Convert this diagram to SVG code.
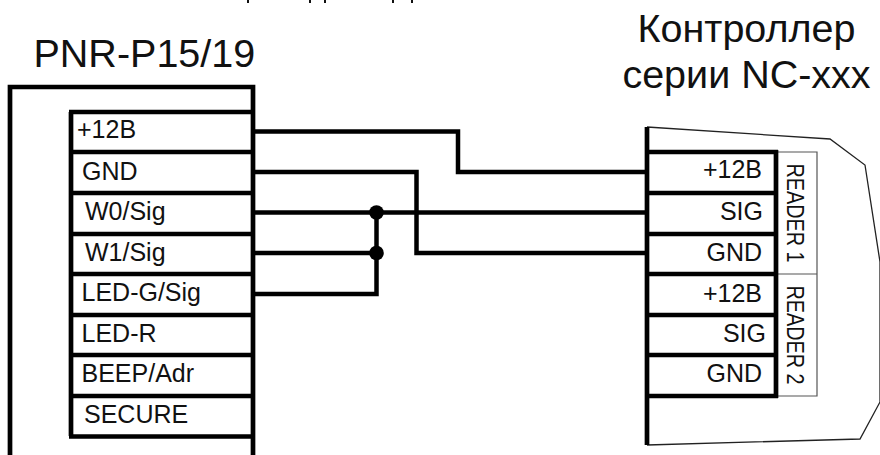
<svg xmlns="http://www.w3.org/2000/svg" width="880" height="455" viewBox="0 0 880 455">
<style>
text{font-family:"Liberation Sans",Arial,sans-serif;fill:#111}
.title{font-size:39.500px}
.pin{font-size:25px}
.end{text-anchor:end}
.side{font-size:23px;text-anchor:middle}
.b{fill:none;stroke:#000;stroke-width:4.700}
.w{fill:none;stroke:#000;stroke-width:4.500}
.t{fill:none;stroke:#555;stroke-width:1.200}
</style>
<rect width="880" height="455" fill="#fff"/>
<path d="M248 0V3M310 0V3M325 0V3M393 0V3M412 0V3" stroke="#111" stroke-width="2" fill="none"/>
<g id="pnr">
<text class="title" x="33.500" y="67">PNR-P15/19</text>
<path class="b" d="M10 455V87H253V455"/>
<path class="b" d="M71 436V112M69 112H253M71 152H253M71 193H253M71 234H253M71 274H253M71 315H253M71 355H253M71 396H253M69 436.500H253"/>
<text class="pin" x="77" y="138">+12В</text>
<text class="pin" x="82" y="180">GND</text>
<text class="pin" x="85" y="220">W0/Sig</text>
<text class="pin" x="85" y="261">W1/Sig</text>
<text class="pin" x="81.500" y="301">LED-G/Sig</text>
<text class="pin" x="81.500" y="342">LED-R</text>
<text class="pin" x="81.500" y="382">BEEP/Adr</text>
<text class="pin" x="84" y="423">SECURE</text>
</g>
<g id="controller">
<text class="title" x="746.500" y="42" text-anchor="middle">Контроллер</text>
<text class="title" x="746.500" y="88" text-anchor="middle">серии NC-ххх</text>
<path d="M647 127L830 139L865 165L880 262V402L860 439L647 445" fill="none" stroke="#222" stroke-width="1.300"/>
<path class="t" d="M777 152H817V396H777M777 274H817"/>
<path class="b" d="M647 127V445M647 152H778M647 193H776M647 234H776M647 274H776M647 315H776M647 355H776M647 396H778M776 150V398"/>
<text class="pin end" x="762" y="178">+12В</text>
<text class="pin end" x="763" y="220">SIG</text>
<text class="pin end" x="762" y="261">GND</text>
<text class="pin end" x="762" y="302">+12В</text>
<text class="pin end" x="766" y="342">SIG</text>
<text class="pin end" x="762" y="382">GND</text>
<text class="side" transform="translate(787 213) rotate(90)" textLength="99" lengthAdjust="spacingAndGlyphs">READER 1</text>
<text class="side" transform="translate(787 335) rotate(90)" textLength="99" lengthAdjust="spacingAndGlyphs">READER 2</text>
</g>
<g id="connectors">
<path class="w" d="M255 131.500H458V172H645"/>
<path class="w" d="M255 172H416.500V253H645"/>
<path class="w" d="M255 212.500H645"/>
<path class="w" d="M255 253H376.500V294H255"/>
<path class="w" d="M376.500 212.500V253"/>
<circle cx="376.500" cy="212.500" r="7.300"/>
<circle cx="376.500" cy="253" r="7.300"/>
</g>
</svg>
